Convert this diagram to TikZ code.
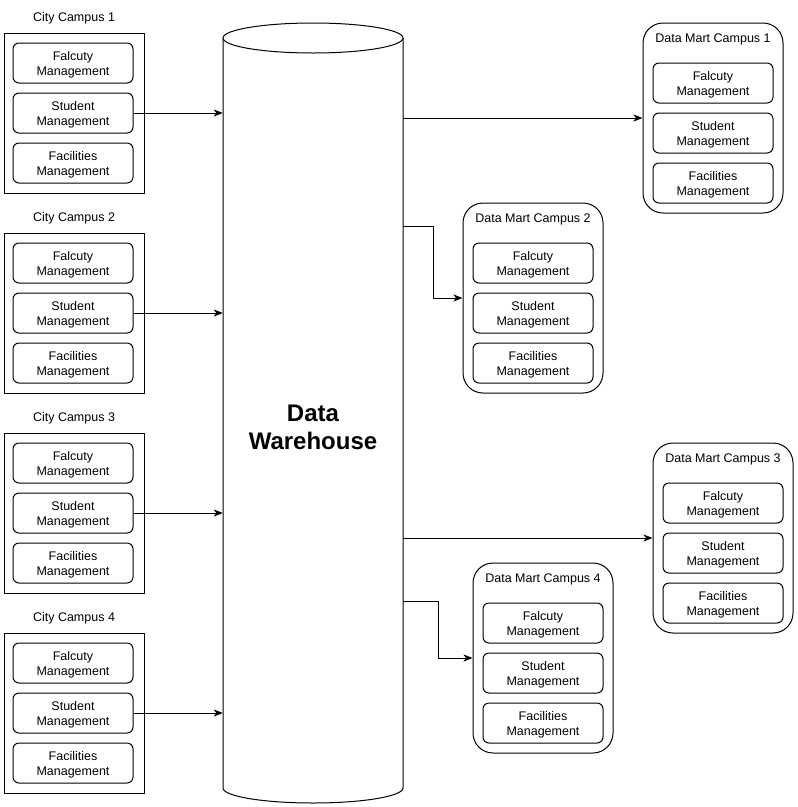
\documentclass[tikz,border=0pt]{standalone}
\usepackage{fontspec}
\setmainfont{Liberation Sans}
\usetikzlibrary{arrows.meta}
\begin{document}
\begin{tikzpicture}[x=1pt,y=-1pt,
  boxtext/.style={align=center, inner sep=0pt, font=\fontsize{12.5}{15}\selectfont, yshift=-1.5pt},
  innerbox/.style={draw, rounded corners=6pt, line width=1pt, minimum width=120pt, minimum height=40pt, inner sep=0pt, label={[boxtext]center:#1}},
  campus/.style={draw, line width=1pt, minimum width=140pt, minimum height=160pt, inner sep=0pt},
  mart/.style={draw, rounded corners=20pt, line width=1pt, minimum width=140pt, minimum height=190pt, inner sep=0pt},
  ttl/.style={font=\fontsize{12.5}{15}\selectfont, inner sep=0pt},
  link/.style={line width=1pt, -{Stealth[length=9pt,width=7pt,inset=2.5pt]}}]
\useasboundingbox (0,0) rectangle (798,807);
% Data warehouse cylinder
\draw[line width=1pt] (223,38) -- (223,788) arc[start angle=180, end angle=360, x radius=90pt, y radius=15pt] -- (403,38);
\draw[line width=1pt, fill=white] (313,38) ellipse [x radius=90pt, y radius=15pt];
\node[minimum width=180pt, minimum height=700pt, inner sep=0pt, align=center, font=\fontsize{24}{28}\selectfont\bfseries] (dw) at (313,427) {Data\\Warehouse};
% City campuses
\foreach \i in {1,...,4} {
  \pgfmathsetmacro{\dy}{200*(\i-1)}
  \node[campus] (c\i) at (74,113+\dy) {};
  \node[ttl] (t\i) at (74,18.5+\dy) {City Campus \i};
  \node[innerbox={Falcuty\\Management}] (cf\i) at (73,63+\dy) {};
  \node[innerbox={Student\\Management}] (cs\i) at (73,113+\dy) {};
  \node[innerbox={Facilities\\Management}] (cx\i) at (73,163+\dy) {};
  \draw[link] (cs\i.east) -- (dw.west |- cs\i.east);
}
% Data marts
\foreach \i/\x/\y in {1/713/118, 2/533/298, 3/723/538, 4/543/658} {
  \node[mart] (m\i) at (\x,\y) {};
  \node[ttl] (mt\i) at (\x,\y-78.5) {Data Mart Campus \i};
  \node[innerbox={Falcuty\\Management}] (mf\i) at (\x,\y-35) {};
  \node[innerbox={Student\\Management}] (ms\i) at (\x,\y+15) {};
  \node[innerbox={Facilities\\Management}] (mx\i) at (\x,\y+65) {};
}
\coordinate (j2) at (433,226);
\coordinate (j4) at (438,601);
\draw[link] (dw.east |- m1.west) -- (m1.west);
\draw[link] (dw.east |- j2) -- (j2) |- (m2.west);
\draw[link] (dw.east |- m3.west) -- (m3.west);
\draw[link] (dw.east |- j4) -- (j4) |- (m4.west);
\end{tikzpicture}
\end{document}
